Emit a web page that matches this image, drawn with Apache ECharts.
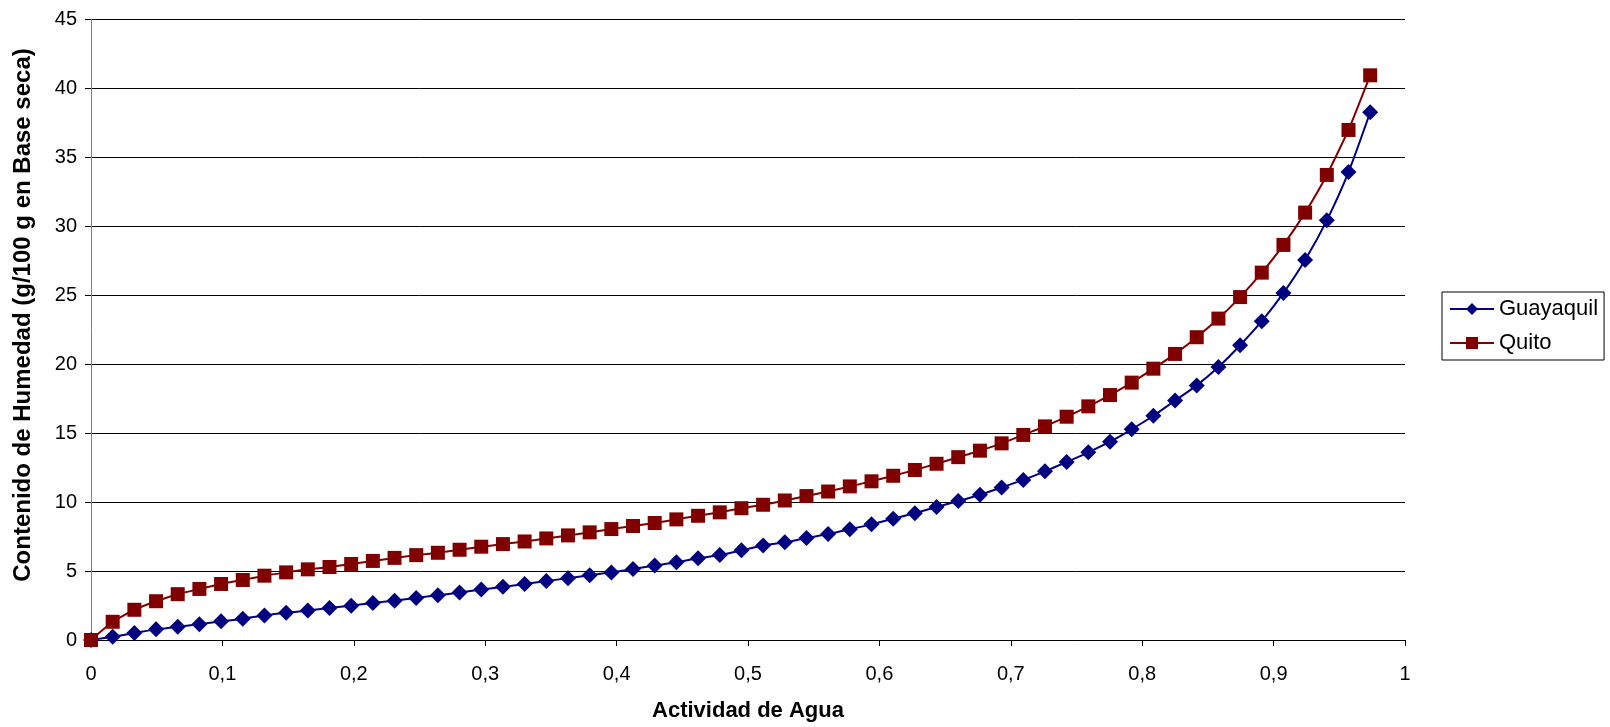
<!DOCTYPE html>
<html>
<head>
<meta charset="utf-8">
<script src="https://cdn.jsdelivr.net/npm/echarts@6/dist/echarts.min.js"></script>
<style>
html,body{margin:0;padding:0;background:#fff;}
#chart{width:1610px;height:727px;}
</style>
</head>
<body>
<div id="chart"></div>
<script>
var aw = [0, 0.0165, 0.033, 0.0495, 0.066, 0.0825, 0.099, 0.1155, 0.132, 0.1485,
  0.165, 0.1815, 0.198, 0.2145, 0.231, 0.2475, 0.264, 0.2805, 0.297, 0.3135,
  0.33, 0.3465, 0.363, 0.3795, 0.396, 0.4125, 0.429, 0.4455, 0.462, 0.4785,
  0.495, 0.5115, 0.528, 0.5445, 0.561, 0.5775, 0.594, 0.6105, 0.627, 0.6435,
  0.66, 0.6765, 0.693, 0.7095, 0.726, 0.7425, 0.759, 0.7755, 0.792, 0.8085,
  0.825, 0.8415, 0.858, 0.8745, 0.891, 0.9075, 0.924, 0.9405, 0.957, 0.9735];

var guayaquil = [0, 0.24, 0.5, 0.77, 0.96, 1.15, 1.35, 1.54, 1.78, 1.97,
  2.14, 2.32, 2.49, 2.68, 2.85, 3.05, 3.24, 3.44, 3.66, 3.85,
  4.06, 4.27, 4.48, 4.69, 4.9, 5.15, 5.39, 5.63, 5.92, 6.16,
  6.5, 6.84, 7.08, 7.39, 7.68, 8.02, 8.38, 8.79, 9.19, 9.64,
  10.07, 10.53, 11.05, 11.6, 12.22, 12.9, 13.6, 14.37, 15.27, 16.25,
  17.35, 18.45, 19.78, 21.36, 23.1, 25.15, 27.54, 30.41, 33.91, 38.24];

var quito = [0, 1.32, 2.19, 2.81, 3.32, 3.7, 4.06, 4.35, 4.66, 4.9,
  5.12, 5.29, 5.51, 5.73, 5.95, 6.15, 6.32, 6.54, 6.76, 6.95,
  7.14, 7.36, 7.58, 7.8, 8.04, 8.26, 8.48, 8.74, 9.0, 9.25,
  9.55, 9.8, 10.11, 10.43, 10.76, 11.13, 11.5, 11.9, 12.32, 12.77,
  13.25, 13.72, 14.25, 14.86, 15.48, 16.18, 16.93, 17.75, 18.65, 19.66,
  20.73, 21.94, 23.29, 24.85, 26.62, 28.63, 30.97, 33.7, 36.96, 40.92];

var xTickLabels = ['0', '0,1', '0,2', '0,3', '0,4', '0,5', '0,6', '0,7', '0,8', '0,9', '1'];
var seriesNames = ['Guayaquil', 'Quito'];
var xTitle = 'Actividad de Agua';
var yTitle = 'Contenido de Humedad (g/100 g en Base seca)';

function pairs(xs, ys) {
  return xs.map(function (x, i) { return [x, ys[i]]; });
}

var FONT = '"Liberation Sans", Arial, sans-serif';
var chart = echarts.init(document.getElementById('chart'), null, {renderer: 'canvas'});
chart.setOption({
  animation: false,
  backgroundColor: '#ffffff',
  textStyle: {fontFamily: FONT, color: '#000'},
  grid: {left: 91, right: 205, top: 19, bottom: 86, containLabel: false},
  graphic: [{
    type: 'text',
    x: 23, y: 315,
    rotation: Math.PI / 2,
    style: {
      text: yTitle,
      fontFamily: FONT, fontSize: 24, fontWeight: 'bold', fill: '#000',
      align: 'center', verticalAlign: 'middle'
    }
  }],
  legend: {
    orient: 'vertical',
    left: 1442, top: 292,
    data: seriesNames,
    borderColor: '#000', borderWidth: 1, borderRadius: 0,
    padding: [6, 6, 6, 7],
    itemWidth: 44, itemHeight: 15, itemGap: 12,
    textStyle: {fontFamily: FONT, fontSize: 22, color: '#000'}
  },
  xAxis: {
    type: 'value', min: 0, max: 1, interval: 0.1,
    name: xTitle, nameLocation: 'middle', nameGap: 60,
    nameTextStyle: {fontFamily: FONT, fontSize: 22, fontWeight: 'bold', color: '#000'},
    axisLine: {show: true, onZero: false, lineStyle: {color: '#000', width: 1}},
    axisTick: {show: true, length: 6, lineStyle: {color: '#000'}},
    axisLabel: {fontFamily: FONT, fontSize: 20, color: '#000', margin: 24,
      formatter: function (v) { return xTickLabels[Math.round(v * 10)]; }},
    splitLine: {show: false}
  },
  yAxis: {
    type: 'value', min: 0, max: 45, interval: 5,
    axisLine: {show: true, lineStyle: {color: '#808080', width: 1}},
    axisTick: {show: true, length: 6, lineStyle: {color: '#000'}},
    axisLabel: {fontFamily: FONT, fontSize: 20, color: '#000', margin: 14},
    splitLine: {show: true, lineStyle: {color: '#000', width: 1}}
  },
  series: [
    {
      name: seriesNames[0], type: 'line', data: pairs(aw, guayaquil),
      symbol: 'diamond', symbolSize: 16, smooth: 0.25,
      lineStyle: {color: '#000080', width: 2},
      itemStyle: {color: '#000080'}
    },
    {
      name: seriesNames[1], type: 'line', data: pairs(aw, quito),
      symbol: 'rect', symbolSize: 14, smooth: 0.15,
      lineStyle: {color: '#800000', width: 2},
      itemStyle: {color: '#800000'}
    }
  ]
});
</script>
</body>
</html>
